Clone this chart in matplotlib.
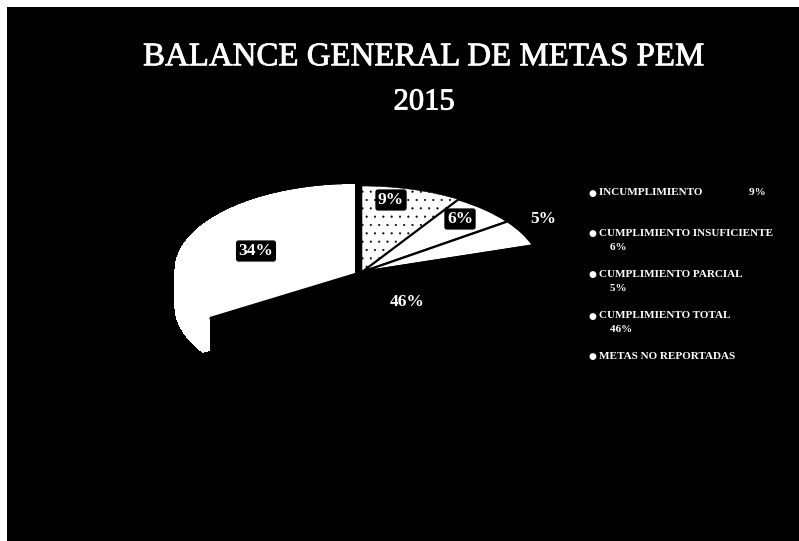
import matplotlib
matplotlib.use("Agg")
import matplotlib.pyplot as plt
import matplotlib.patheffects as pe

W, H = 799, 541

# values, clockwise from 12 o'clock
shares = [9, 6, 5, 46, 34]
slice_labels = ["9%", "6%", "5%", "46%", "34%"]
slice_colors = ["white", "white", "white", "black", "white"]
side_colors = ["black", "black", "black", "black", "white"]
explode = [0, 0, 0, 0, 0.045]

title = "BALANCE GENERAL DE METAS PEM"
year = "2015"
legend_rows = [
    "INCUMPLIMIENTO                 9%",
    "CUMPLIMIENTO INSUFICIENTE\n    6%",
    "CUMPLIMIENTO PARCIAL\n    5%",
    "CUMPLIMIENTO TOTAL\n    46%",
    "METAS NO REPORTADAS",
]

plt.rcParams["font.family"] = ["Liberation Serif", "DejaVu Serif"]
plt.rcParams["hatch.linewidth"] = 0.3


def fx(x):
    return x / W


def fy(y):
    return 1 - y / H


fig = plt.figure(figsize=(W / 100, H / 100), dpi=100, facecolor="white")

# black slide, the scan leaves a white strip on top and left
panel = fig.add_axes([fx(7), 0, 1 - fx(7), fy(7)], facecolor="black")
panel.set_xticks([])
panel.set_yticks([])
for s in panel.spines.values():
    s.set_visible(False)

# the tilted pie: one unit is 180 px across and 86 px down
cx, cy, rx, ry = 362, 272, 180, 86
x_pad, y_top, y_bot = 1.25, 1.25, 1.7
ax = fig.add_axes([fx(cx - rx * x_pad), fy(cy + ry * y_bot),
                   2 * rx * x_pad / W, ry * (y_top + y_bot) / H])
ax.patch.set_visible(False)

# side of the pie, stacked copies from the bottom up
depth = 0.42
steps = 60
for k in range(steps, 0, -1):
    side, _ = ax.pie(shares, startangle=90, counterclock=False, colors=side_colors,
                     explode=explode, center=(0, -depth * k / steps))
    for w in side:
        w.set_antialiased(False)

wedges, _ = ax.pie(shares, startangle=90, counterclock=False, colors=slice_colors,
                   explode=explode, wedgeprops=dict(edgecolor="black", linewidth=1.6))
wedges[0].set_hatch("..")
wedges[0].set_linewidth(0.4)
wedges[4].set_edgecolor("white")
wedges[4].set_linewidth(0)

ax.set_aspect("auto")
ax.set_xlim(-x_pad, x_pad)
ax.set_ylim(-y_bot, y_top)
ax.axis("off")

# data labels
label_pos = [(391, 200), (460, 219), (543, 219), (407, 302), (256, 251)]
for lab, (x, y), col in zip(slice_labels, label_pos, slice_colors):
    box = None
    if lab != "5%" and col == "white":
        box = dict(boxstyle="round,pad=0.15", fc="black", ec="none")
    fig.text(fx(x), fy(y), lab, color="white", fontsize=12.5, fontweight="bold",
             ha="center", va="center", bbox=box, zorder=5)

stroke = [pe.withStroke(linewidth=0.6, foreground="white")]
fig.text(fx(424), fy(57), title, color="white", fontsize=23.7, ha="center", va="center",
         path_effects=stroke)
fig.text(fx(424), fy(102), year, color="white", fontsize=22, ha="center", va="center",
         path_effects=stroke)

# legend
row_y = [193, 234, 275, 316, 357]
for txt, y in zip(legend_rows, row_y):
    fig.text(fx(592), fy(y), "\u25cf", color="white", fontsize=6.5, ha="center", va="center",
             family="DejaVu Sans")
    fig.text(fx(599), fy(y - 5), txt, color="white", fontsize=8, fontweight="bold",
             ha="left", va="top", linespacing=1.67)

fig.savefig("out.png", dpi=100, facecolor="white")
